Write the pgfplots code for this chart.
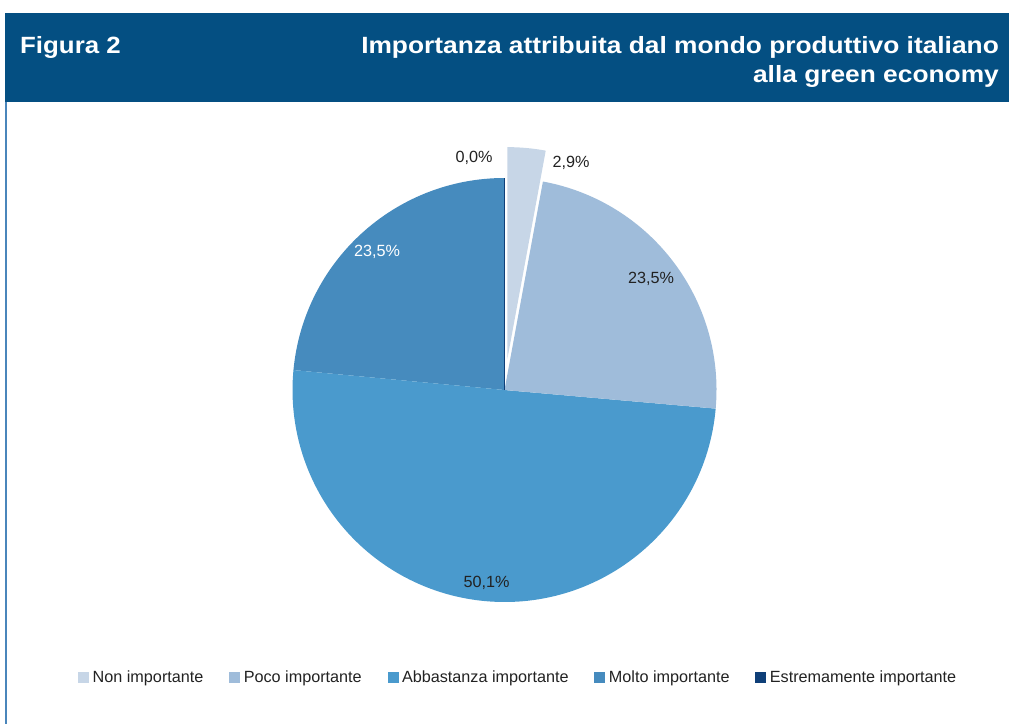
\documentclass[border=0pt]{standalone}
\usepackage{pgfplots}
\pgfplotsset{compat=1.18}
\usepackage{fontspec}
\setmainfont{Liberation Sans}
\usetikzlibrary{calc}
\definecolor{cHead}{RGB}{4,79,130}
\definecolor{cLine}{RGB}{74,134,187}
\definecolor{cNon}{RGB}{199,214,231}
\definecolor{cPoco}{RGB}{159,188,218}
\definecolor{cAbb}{RGB}{74,154,205}
\definecolor{cMolto}{RGB}{70,139,190}
\definecolor{cEst}{RGB}{15,63,120}
\definecolor{cTxt}{RGB}{34,34,34}
% data (percent)
\def\vNon{2.9}
\def\vPoco{23.5}
\def\vAbb{50.1}
\def\vMolto{23.5}
\def\vEst{0.0}
\pgfmathsetmacro{\aA}{90}
\pgfmathsetmacro{\aB}{\aA-3.6*\vNon}
\pgfmathsetmacro{\aC}{\aB-3.6*\vPoco}
\pgfmathsetmacro{\aD}{\aC-3.6*\vAbb}
\pgfmathsetmacro{\aE}{\aD-3.6*\vMolto}
\pgfmathsetmacro{\aM}{(\aA+\aB)/2}
\def\cx{504.5}
\def\cy{334}
\def\R{212pt}
\begin{document}
\begin{tikzpicture}
\path[use as bounding box] (0,0) rectangle (1009pt,724pt);
\begin{axis}[
  at={(0,0)}, anchor=south west,
  width=1009pt, height=724pt, scale only axis,
  xmin=0, xmax=1009, ymin=0, ymax=724,
  hide axis, clip=false,
  legend columns=5,
  legend style={draw=none, fill=none, inner sep=0pt,
    at={(axis cs:78,47)}, anchor=west,
    font=\fontsize{16.2}{19}\selectfont, text=cTxt,
    nodes={inner sep=2pt},
    /tikz/every odd column/.append style={column sep=1.5pt},
    /tikz/every even column/.append style={column sep=23.8pt}},
  mysq/.style={legend image code/.code={\fill (0pt,-5.5pt) rectangle (11pt,5.5pt);}},
]
% header
\fill[cHead] (axis cs:5,622.3) rectangle (axis cs:1009,711.3);
\fill[cLine] (axis cs:4.8,0) rectangle (axis cs:6.6,622.3);
\node[anchor=base west, text=white, inner sep=0pt] at (axis cs:20,670)
  {\fontsize{23.5}{28}\selectfont\bfseries\scalebox{1.1}[1]{Figura 2}};
\node[anchor=base east, text=white, inner sep=0pt] at (axis cs:999,670)
  {\fontsize{23.5}{28}\selectfont\bfseries\scalebox{1.12}[1]{Importanza attribuita dal mondo produttivo italiano}};
\node[anchor=base east, text=white, inner sep=0pt] at (axis cs:999,641)
  {\fontsize{23.5}{28}\selectfont\bfseries\scalebox{1.12}[1]{alla green economy}};
% pie
\fill[cMolto] (axis cs:\cx,\cy) -- ++(\aD:\R) arc[start angle=\aD, end angle=\aE, radius=\R] -- cycle;
\fill[cAbb] (axis cs:\cx,\cy) -- ++(\aC:\R) arc[start angle=\aC, end angle=\aD, radius=\R] -- cycle;
\fill[cPoco] (axis cs:\cx,\cy) -- ++(\aB:\R) arc[start angle=\aB, end angle=\aC, radius=\R] -- cycle;
\draw[cEst, line width=1.2pt] (axis cs:\cx,\cy) -- ++(90:\R);
\fill[cNon] ($(axis cs:\cx,\cy)+(\aM:31pt)$) -- ++(\aA:\R) arc[start angle=\aA, end angle=\aB, radius=\R] -- cycle;
% labels
\begin{scope}[every node/.style={font=\fontsize{16.2}{19}\selectfont, inner sep=0pt}]
\node[text=cTxt] at (axis cs:474,566) {0,0\%};
\node[text=cTxt] at (axis cs:571,561) {2,9\%};
\node[text=cTxt] at (axis cs:651,445) {23,5\%};
\node[text=cTxt] at (axis cs:486.5,141) {50,1\%};
\node[text=white] at (axis cs:377,472) {23,5\%};
\end{scope}
% legend
\addlegendimage{mysq, fill=cNon, draw=none}
\addlegendentry{Non importante}
\addlegendimage{mysq, fill=cPoco, draw=none}
\addlegendentry{Poco importante}
\addlegendimage{mysq, fill=cAbb, draw=none}
\addlegendentry{Abbastanza importante}
\addlegendimage{mysq, fill=cMolto, draw=none}
\addlegendentry{Molto importante}
\addlegendimage{mysq, fill=cEst, draw=none}
\addlegendentry{Estremamente importante}
\end{axis}
\end{tikzpicture}
\end{document}
